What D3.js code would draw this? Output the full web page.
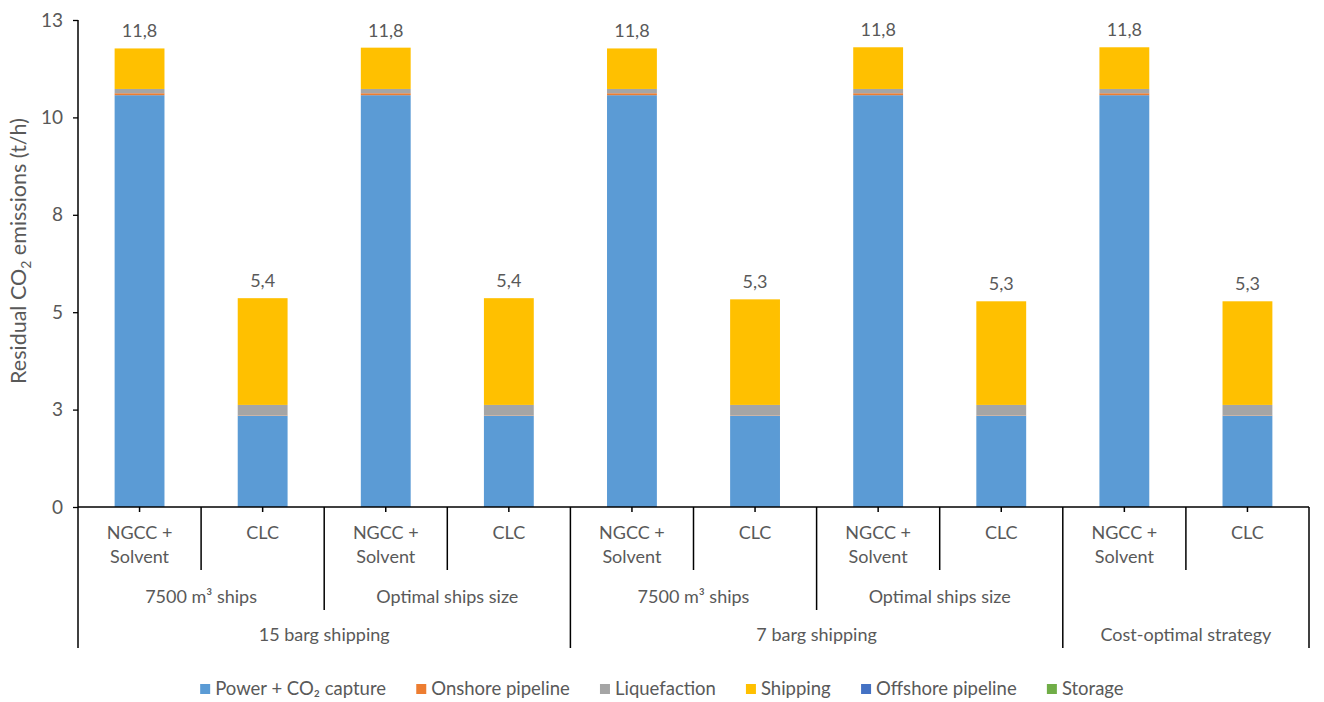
<!DOCTYPE html>
<html>
<head>
<meta charset="utf-8">
<script src="https://cdn.jsdelivr.net/npm/d3@7"></script>
<style>
  html, body { margin: 0; padding: 0; background: #fff; }
  svg { display: block; }
  text { font-family: Lato, "Liberation Sans", sans-serif; fill: #595959; }
</style>
</head>
<body>
<svg id="chart" width="1324" height="702"></svg>
<script>
// Categories (three-level axis)
const technologies = ["NGCC +\nSolvent", "CLC", "NGCC +\nSolvent", "CLC", "NGCC +\nSolvent", "CLC", "NGCC +\nSolvent", "CLC", "NGCC +\nSolvent", "CLC"];
const shipGroups = [
  { label: "7500 m³ ships", from: 0, to: 2 },
  { label: "Optimal ships size", from: 2, to: 4 },
  { label: "7500 m³ ships", from: 4, to: 6 },
  { label: "Optimal ships size", from: 6, to: 8 },
  { label: "", from: 8, to: 10 }
];
const strategyGroups = [
  { label: "15 barg shipping", from: 0, to: 4 },
  { label: "7 barg shipping", from: 4, to: 8 },
  { label: "Cost-optimal strategy", from: 8, to: 10 }
];

// Residual CO2 emissions by stage (t/h)
const powerCapture     = [10.57, 2.34, 10.57, 2.34, 10.57, 2.34, 10.57, 2.34, 10.57, 2.34];
const onshorePipeline  = [0.05, 0.01, 0.05, 0.01, 0.05, 0.01, 0.05, 0.01, 0.05, 0.01];
const liquefaction     = [0.11, 0.27, 0.11, 0.27, 0.11, 0.27, 0.11, 0.27, 0.11, 0.27];
const shipping         = [1.04, 2.74, 1.06, 2.74, 1.04, 2.71, 1.07, 2.66, 1.07, 2.66];
const offshorePipeline = [0.00, 0.00, 0.00, 0.00, 0.00, 0.00, 0.00, 0.00, 0.00, 0.00];
const storage          = [0.00, 0.00, 0.00, 0.00, 0.00, 0.00, 0.00, 0.00, 0.00, 0.00];

const seriesNames = ["Power + CO₂ capture", "Onshore pipeline", "Liquefaction", "Shipping", "Offshore pipeline", "Storage"];
const seriesValues = [powerCapture, onshorePipeline, liquefaction, shipping, offshorePipeline, storage];
const seriesColors = ["#5B9BD5", "#ED7D31", "#A5A5A5", "#FFC000", "#4472C4", "#70AD47"];

const yTicks = [0, 2.5, 5, 7.5, 10, 12.5];

const svg = d3.select("#chart");
const plotLeft = 78, plotRight = 1309, plotTop = 20, plotBottom = 507;
const fs = 18;

const x = d3.scaleBand().domain(d3.range(technologies.length)).range([plotLeft, plotRight]).padding(0);
const y = d3.scaleLinear().domain([0, 12.5]).range([plotBottom, plotTop]);
const barW = x.bandwidth() * 0.405;

// Build stacked table
const keys = seriesNames.map((_, i) => "s" + i);
const rows = technologies.map((t, i) => {
  const r = { idx: i };
  keys.forEach((k, j) => r[k] = seriesValues[j][i]);
  return r;
});
const stacked = d3.stack().keys(keys)(rows);

// Bars
svg.append("g").selectAll("g").data(stacked).join("g")
  .attr("fill", (d, i) => seriesColors[i])
  .selectAll("rect").data(d => d).join("rect")
  .attr("x", d => x(d.data.idx) + x.bandwidth() / 2 - barW / 2)
  .attr("width", barW)
  .attr("y", d => y(d[1]))
  .attr("height", d => Math.max(0, y(d[0]) - y(d[1])));

// Total labels
const fmt = v => d3.format(".1f")(v).replace(".", ",");
svg.append("g").selectAll("text").data(rows).join("text")
  .attr("x", d => x(d.idx) + x.bandwidth() / 2)
  .attr("y", d => y(d3.sum(keys, k => d[k])) - 11)
  .attr("text-anchor", "middle")
  .attr("font-size", fs)
  .text(d => fmt(d3.sum(keys, k => d[k])));

// Y axis
const yAxis = svg.append("g").attr("transform", `translate(${plotLeft},0)`)
  .call(d3.axisLeft(y).tickValues(yTicks).tickSize(5).tickPadding(10).tickFormat(v => String(Math.round(v))));
yAxis.select(".domain").remove();
yAxis.selectAll(".tick line").attr("stroke", "#000").attr("stroke-width", 1.3);
yAxis.selectAll(".tick text").attr("font-size", 19).attr("fill", "#595959").attr("font-family", "Lato, sans-serif");

// Axis lines
const lines = svg.append("g").attr("stroke", "#000").attr("stroke-width", 1.5);
lines.append("line").attr("x1", plotLeft).attr("x2", plotLeft).attr("y1", plotTop).attr("y2", 648);
lines.append("line").attr("x1", plotLeft).attr("x2", plotRight).attr("y1", plotBottom).attr("y2", plotBottom);

// Category tick marks
lines.selectAll(".ct").data(technologies).join("line")
  .attr("x1", (d, i) => x(i) + x.bandwidth() / 2)
  .attr("x2", (d, i) => x(i) + x.bandwidth() / 2)
  .attr("y1", plotBottom).attr("y2", plotBottom + 5);

// Separators between categories, subgroups and groups
const boundaries = d3.range(1, technologies.length + 1).map(i => {
  let depth = 570;
  if (shipGroups.some(g => g.to === i && g.label !== "")) depth = 610;
  if (strategyGroups.some(g => g.to === i)) depth = 648;
  return { i, depth };
});
lines.selectAll(".sep").data(boundaries).join("line")
  .attr("x1", d => d.i < technologies.length ? x(d.i) : plotRight)
  .attr("x2", d => d.i < technologies.length ? x(d.i) : plotRight)
  .attr("y1", plotBottom).attr("y2", d => d.depth);

// Level 1 labels
const l1 = svg.append("g").selectAll("text").data(technologies).join("text")
  .attr("text-anchor", "middle")
  .attr("font-size", fs)
  .attr("x", (d, i) => x(i) + x.bandwidth() / 2)
  .attr("y", 539);
l1.selectAll("tspan").data(d => d.split("\n")).join("tspan")
  .attr("x", function () { return this.parentNode.getAttribute("x"); })
  .attr("dy", (d, i) => i === 0 ? 0 : 24)
  .text(d => d);

// Level 2 labels
svg.append("g").selectAll("text").data(shipGroups).join("text")
  .attr("text-anchor", "middle").attr("font-size", fs)
  .attr("x", d => (x(d.from) + (d.to < technologies.length ? x(d.to) : plotRight)) / 2)
  .attr("y", 603)
  .text(d => d.label);

// Level 3 labels
svg.append("g").selectAll("text").data(strategyGroups).join("text")
  .attr("text-anchor", "middle").attr("font-size", fs)
  .attr("x", d => (x(d.from) + (d.to < technologies.length ? x(d.to) : plotRight)) / 2)
  .attr("y", 641)
  .text(d => d.label);

// Y axis title
const yt = svg.append("text")
  .attr("transform", "translate(26,251) rotate(-90)")
  .attr("text-anchor", "middle").attr("font-size", 21.5);
yt.append("tspan").text("Residual CO");
yt.append("tspan").attr("font-size", 14).attr("dy", 5).text("2");
yt.append("tspan").attr("dy", -5).text(" emissions (t/h)");

// Legend
const legend = svg.append("g");
const items = legend.selectAll("g").data(seriesNames).join("g");
items.append("rect").attr("width", 10).attr("height", 10).attr("y", -5)
  .attr("fill", (d, i) => seriesColors[i]);
items.append("text").attr("x", 15).attr("y", 0).attr("dy", "0.35em").attr("font-size", 18.5)
  .text(d => d);
let cursor = 0;
items.each(function () {
  const w = this.getBBox().width;
  d3.select(this).attr("transform", `translate(${cursor},689)`);
  cursor += w + 30;
});
const totalW = cursor - 30;
legend.attr("transform", `translate(${662 - totalW / 2},0)`);
</script>
</body>
</html>
